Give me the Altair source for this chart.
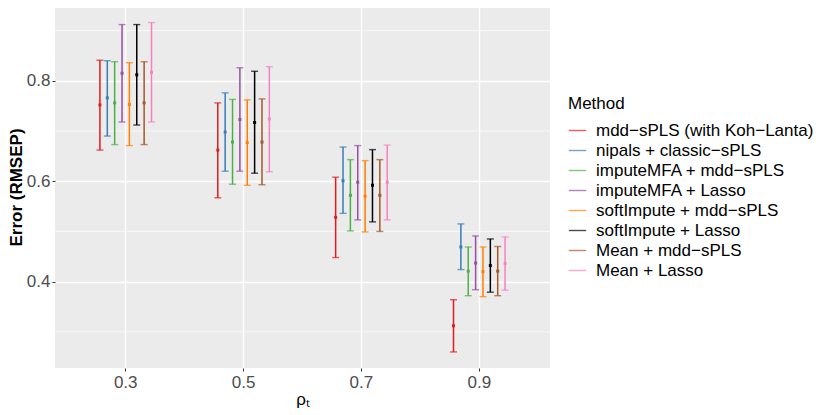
import altair as alt
import pandas as pd

rho_levels = ["0.3", "0.5", "0.7", "0.9"]
methods = [
    "mdd−sPLS (with Koh−Lanta)",
    "nipals + classic−sPLS",
    "imputeMFA + mdd−sPLS",
    "imputeMFA + Lasso",
    "softImpute + mdd−sPLS",
    "softImpute + Lasso",
    "Mean + mdd−sPLS",
    "Mean + Lasso",
]
colors = ["#E41A1C", "#377EB8", "#4DAF4A", "#984EA3", "#FF7F00", "#000000", "#A65628", "#F781BF"]

# values per rho level, in method order
mean_03 = [0.752, 0.766, 0.756, 0.815, 0.753, 0.812, 0.756, 0.817]
low_03 = [0.662, 0.690, 0.673, 0.718, 0.671, 0.712, 0.673, 0.718]
high_03 = [0.841, 0.840, 0.838, 0.912, 0.836, 0.912, 0.838, 0.916]

mean_05 = [0.662, 0.698, 0.678, 0.723, 0.677, 0.717, 0.678, 0.724]
low_05 = [0.567, 0.620, 0.594, 0.620, 0.592, 0.616, 0.593, 0.619]
high_05 = [0.756, 0.776, 0.763, 0.826, 0.762, 0.819, 0.764, 0.828]

mean_07 = [0.528, 0.601, 0.572, 0.598, 0.570, 0.592, 0.572, 0.598]
low_07 = [0.448, 0.536, 0.501, 0.523, 0.499, 0.519, 0.500, 0.523]
high_07 = [0.608, 0.668, 0.643, 0.671, 0.641, 0.663, 0.643, 0.672]

mean_09 = [0.312, 0.469, 0.421, 0.437, 0.420, 0.432, 0.421, 0.436]
low_09 = [0.260, 0.424, 0.372, 0.384, 0.370, 0.379, 0.372, 0.383]
high_09 = [0.364, 0.515, 0.469, 0.491, 0.469, 0.485, 0.470, 0.489]

major_ticks = [0.4, 0.6, 0.8]
minor_ticks = [0.3, 0.5, 0.7, 0.9]
y_domain = [0.228, 0.949]

rows = []
for rho, mvals, lvals, hvals in zip(
    rho_levels,
    [mean_03, mean_05, mean_07, mean_09],
    [low_03, low_05, low_07, low_09],
    [high_03, high_05, high_07, high_09],
):
    for m, mv, lv, hv in zip(methods, mvals, lvals, hvals):
        rows.append({"rho": rho, "Method": m, "mean": mv, "low": lv, "high": hv})
df = pd.DataFrame(rows)
minor_df = pd.DataFrame({"v": minor_ticks})

FONT = "Liberation Sans"
PLOT_W = 495
PLOT_H = 362
STEP = PLOT_W / 4.2  # band step of the x scale (outer padding 0.1 each side)

yscale = alt.Scale(domain=y_domain, nice=False, zero=False)
xscale = alt.Scale(domain=rho_levels, paddingInner=0, paddingOuter=0.1)
# dodge width = half of a band, centred in the band
offscale = alt.Scale(domain=methods, paddingInner=0, paddingOuter=0,
                     range=[STEP * 0.25, STEP * 0.75])
cscale = alt.Scale(domain=methods, range=colors)

x_enc = alt.X(
    "rho:N",
    scale=xscale,
    sort=rho_levels,
    axis=alt.Axis(
        title="ρₜ",
        labelAngle=0,
        bandPosition=0.5,
        grid=True,
        gridColor="white",
        gridWidth=1.4,
        domain=False,
        tickSize=3,
        tickColor="#333333",
        labelFontSize=17,
        labelColor="#4D4D4D",
        labelPadding=3,
        titleFontSize=17,
        titleFontWeight="normal",
        titleColor="black",
        titlePadding=1,
    ),
)
xoff = alt.XOffset("Method:N", scale=offscale, sort=methods)
color = alt.Color(
    "Method:N",
    scale=cscale,
    sort=methods,
    legend=alt.Legend(
        title="Method",
        orient="none",
        legendX=513,
        legendY=90,
        symbolType="stroke",
        symbolSize=300,
        symbolStrokeWidth=1.4,
        labelFontSize=17,
        labelLimit=0,
        titleFontSize=17,
        titleFontWeight="normal",
        titleColor="black",
        labelColor="black",
        rowPadding=2,
        titlePadding=8,
        labelOffset=9,
        padding=0,
    ),
)

minor = alt.Chart(minor_df).mark_rule(color="white", strokeWidth=0.7).encode(
    y=alt.Y("v:Q", scale=yscale)
)

base = alt.Chart(df).encode(x=x_enc, xOffset=xoff, color=color)

bars = base.mark_rule(strokeWidth=1.5).encode(
    y=alt.Y(
        "low:Q",
        scale=yscale,
        axis=alt.Axis(
            title="Error (RMSEP)",
            values=major_ticks,
            format=".1f",
            grid=True,
            gridColor="white",
            gridWidth=1.4,
            domain=False,
            tickSize=3,
            tickColor="#333333",
            labelFontSize=17,
            labelColor="#4D4D4D",
            labelPadding=2,
            titleFontSize=17,
            titleFontWeight="bold",
            titleColor="black",
            titlePadding=1,
        ),
    ),
    y2="high:Q",
)
cap_lo = base.mark_tick(size=7, thickness=1.4).encode(y=alt.Y("low:Q", scale=yscale))
cap_hi = base.mark_tick(size=7, thickness=1.4).encode(y=alt.Y("high:Q", scale=yscale))
pts = base.mark_point(filled=True, shape="square", size=9, opacity=1).encode(
    y=alt.Y("mean:Q", scale=yscale)
)

chart = (
    alt.layer(minor, bars, cap_lo, cap_hi, pts)
    .properties(
        width=PLOT_W,
        height=PLOT_H,
        autosize=alt.AutoSizeParams(type="none"),
        padding={"left": 47, "top": -2, "right": 270, "bottom": 47},
    )
    .configure(font=FONT)
    .configure_view(fill="#EBEBEB", stroke=None)
)

chart.save("out.html", embed_options={"renderer": "svg", "actions": False})
